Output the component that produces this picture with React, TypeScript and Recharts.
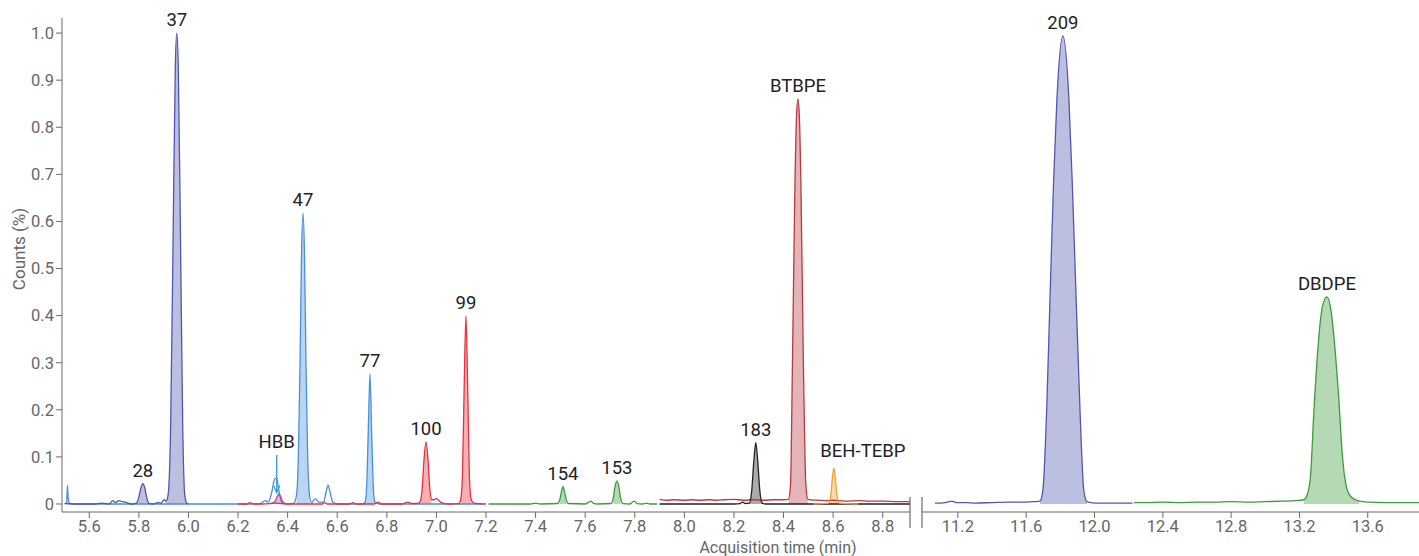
import React from "react";
import {
  ComposedChart,
  Area,
  Line,
  XAxis,
  YAxis,
  ReferenceDot,
  ReferenceLine,
} from "recharts";

type Pt = [number, number];

// retention time (min), counts (%)
const indigoLeft: Pt[] = [
  [5.5, 0.001], [5.55, 0.0], [5.62, 0.0], [5.65, 0.002], [5.68, 0.0], [5.695, 0.007],
  [5.705, 0.003], [5.72, 0.007], [5.735, 0.005], [5.75, 0.003], [5.77, 0.0], [5.79, 0.002],
  [5.8, 0.015], [5.808, 0.034], [5.816, 0.043], [5.824, 0.034], [5.832, 0.013], [5.842, 0.001],
  [5.86, 0.0], [5.875, 0.003], [5.89, 0.002], [5.902, 0.009], [5.91, 0.006], [5.918, 0.02],
  [5.928, 0.16], [5.938, 0.56], [5.947, 0.93], [5.953, 1.0], [5.959, 0.93], [5.968, 0.56],
  [5.977, 0.16], [5.985, 0.02], [5.993, 0.002], [6.0, 0.0],
];

const lightBlue: Pt[] = [
  [5.509, 0.0], [5.512, 0.04], [5.515, 0.012], [5.52, 0.002], [5.53, 0.0], [5.7, 0.0],
  [6.0, 0.0], [6.25, 0.0], [6.29, 0.001], [6.31, 0.007], [6.322, 0.004], [6.336, 0.025],
  [6.348, 0.053], [6.356, 0.055], [6.364, 0.03], [6.375, 0.005], [6.39, 0.0], [6.425, 0.002],
  [6.436, 0.02], [6.444, 0.12], [6.45, 0.3], [6.456, 0.53], [6.462, 0.618], [6.468, 0.53],
  [6.474, 0.3], [6.48, 0.12], [6.488, 0.02], [6.496, 0.003], [6.505, 0.008], [6.514, 0.011],
  [6.525, 0.004], [6.545, 0.004], [6.555, 0.025], [6.563, 0.04], [6.571, 0.025], [6.582, 0.004],
  [6.6, 0.0], [6.7, 0.0], [6.712, 0.004], [6.718, 0.03], [6.725, 0.15], [6.732, 0.276],
  [6.739, 0.15], [6.746, 0.03], [6.752, 0.004], [6.77, 0.0], [7.0, 0.0], [7.19, 0.0],
];

const magenta: Pt[] = [
  [6.33, 0.0], [6.35, 0.006], [6.358, 0.016], [6.365, 0.021], [6.372, 0.016], [6.38, 0.005], [6.395, 0.0],
];

const red: Pt[] = [
  [6.2, 0.0], [6.235, 0.0], [6.248, 0.003], [6.26, 0.0], [6.3, 0.0], [6.35, 0.002], [6.4, 0.0],
  [6.54, 0.0], [6.55, 0.003], [6.56, 0.0], [6.65, 0.0], [6.663, 0.003], [6.675, 0.0], [6.75, 0.0],
  [6.764, 0.004], [6.778, 0.0], [6.86, 0.0], [6.885, 0.004], [6.9, 0.001], [6.925, 0.001],
  [6.935, 0.006], [6.943, 0.035], [6.95, 0.095], [6.958, 0.132], [6.966, 0.095], [6.973, 0.035],
  [6.98, 0.01], [6.99, 0.009], [7.0, 0.012], [7.01, 0.007], [7.025, 0.002], [7.05, 0.0],
  [7.09, 0.001], [7.098, 0.01], [7.105, 0.06], [7.112, 0.25], [7.119, 0.4], [7.126, 0.25],
  [7.133, 0.06], [7.14, 0.01], [7.15, 0.002], [7.2, 0.0],
];

const greenLeft: Pt[] = [
  [7.21, 0.0], [7.38, 0.0], [7.4, 0.002], [7.42, 0.0], [7.49, 0.001], [7.498, 0.01],
  [7.505, 0.028], [7.51, 0.037], [7.516, 0.028], [7.523, 0.01], [7.532, 0.001], [7.6, 0.0],
  [7.615, 0.004], [7.623, 0.006], [7.632, 0.002], [7.65, 0.0], [7.705, 0.001], [7.713, 0.012],
  [7.72, 0.036], [7.728, 0.049], [7.736, 0.036], [7.743, 0.012], [7.752, 0.001], [7.78, 0.0],
  [7.797, 0.006], [7.81, 0.001], [7.83, 0.0], [7.849, 0.002], [7.86, 0.0], [7.89, 0.0],
];

const darkRed: Pt[] = [
  [7.9, 0.01], [7.93, 0.008], [7.96, 0.009], [8.0, 0.008], [8.03, 0.009], [8.06, 0.008],
  [8.1, 0.009], [8.13, 0.008], [8.16, 0.009], [8.2, 0.01], [8.24, 0.008], [8.28, 0.009],
  [8.32, 0.008], [8.36, 0.009], [8.4, 0.009], [8.42, 0.01], [8.428, 0.04], [8.436, 0.3],
  [8.446, 0.68], [8.452, 0.82], [8.458, 0.86], [8.464, 0.82], [8.47, 0.68], [8.48, 0.3],
  [8.49, 0.04], [8.498, 0.01], [8.53, 0.008], [8.57, 0.007], [8.6, 0.008], [8.65, 0.006],
  [8.7, 0.007], [8.75, 0.006], [8.8, 0.006], [8.86, 0.005], [8.91, 0.005],
];

const black: Pt[] = [
  [7.9, 0.0], [8.0, 0.0], [8.1, 0.0], [8.2, 0.0], [8.225, 0.001], [8.235, 0.004], [8.245, 0.001],
  [8.262, 0.002], [8.272, 0.03], [8.28, 0.09], [8.288, 0.13], [8.296, 0.09], [8.304, 0.03],
  [8.314, 0.002], [8.33, 0.0], [8.45, 0.0], [8.6, 0.0], [8.75, 0.0], [8.91, 0.0],
];

const orange: Pt[] = [
  [8.52, 0.0], [8.582, 0.002], [8.592, 0.025], [8.598, 0.06], [8.603, 0.076], [8.608, 0.06],
  [8.614, 0.025], [8.624, 0.002], [8.7, 0.0],
];

const indigoRight: Pt[] = [
  [11.066, 0.002], [11.1, 0.002], [11.14, 0.004], [11.166, 0.006], [11.19, 0.003], [11.25, 0.003],
  [11.3, 0.002], [11.4, 0.003], [11.5, 0.004], [11.6, 0.004], [11.65, 0.005], [11.68, 0.006],
  [11.698, 0.03], [11.72, 0.2], [11.739, 0.43], [11.76, 0.68], [11.78, 0.86], [11.815, 0.994],
  [11.85, 0.86], [11.87, 0.68], [11.893, 0.43], [11.915, 0.2], [11.937, 0.03], [11.955, 0.005],
  [12.0, 0.002], [12.1, 0.002], [12.223, 0.002],
];

const greenRight: Pt[] = [
  [12.23, 0.003], [12.3, 0.003], [12.4, 0.004], [12.5, 0.003], [12.6, 0.004], [12.7, 0.004],
  [12.8, 0.005], [12.9, 0.004], [13.0, 0.005], [13.1, 0.006], [13.18, 0.007], [13.226, 0.009],
  [13.25, 0.025], [13.265, 0.06], [13.285, 0.2], [13.308, 0.33], [13.335, 0.42], [13.361, 0.44],
  [13.385, 0.41], [13.408, 0.33], [13.431, 0.22], [13.45, 0.11], [13.47, 0.045], [13.5, 0.016],
  [13.55, 0.006], [13.6, 0.004], [13.7, 0.003], [13.8, 0.003], [13.9, 0.003],
];

const yTicks = [0, 0.1, 0.2, 0.3, 0.4, 0.5, 0.6, 0.7, 0.8, 0.9, 1.0];
const leftTicks = [5.6, 5.8, 6.0, 6.2, 6.4, 6.6, 6.8, 7.0, 7.2, 7.4, 7.6, 7.8, 8.0, 8.2, 8.4, 8.6, 8.8];
const rightTicks = [11.2, 11.6, 12.0, 12.4, 12.8, 13.2, 13.6];

const leftLabels = [
  { text: "28", t: 5.816, v: 0.043 },
  { text: "37", t: 5.953, v: 1.0 },
  { text: "HBB", t: 6.356, v: 0.104 },
  { text: "47", t: 6.462, v: 0.618 },
  { text: "77", t: 6.732, v: 0.276 },
  { text: "100", t: 6.958, v: 0.132 },
  { text: "99", t: 7.119, v: 0.4 },
  { text: "154", t: 7.51, v: 0.037 },
  { text: "153", t: 7.728, v: 0.049 },
  { text: "183", t: 8.288, v: 0.13 },
  { text: "BTBPE", t: 8.458, v: 0.86 },
  { text: "BEH-TEBP", t: 8.72, v: 0.085 },
];
const rightLabels = [
  { text: "209", t: 11.815, v: 0.994 },
  { text: "DBDPE", t: 13.361, v: 0.44 },
];

// [tStart, tEnd] of integrated (filled) peaks
const leftSeries = [
  { data: lightBlue, color: "#4a90d9", peaks: [[6.43, 6.495], [6.708, 6.756]] },
  { data: indigoLeft, color: "#5257ad", peaks: [[5.79, 5.845], [5.91, 6.0]] },
  { data: red, color: "#e8323a", peaks: [[6.93, 6.985], [7.092, 7.148]] },
  { data: magenta, color: "#c0408f", peaks: [[6.33, 6.395]] },
  { data: greenLeft, color: "#3b9c3b", peaks: [[7.492, 7.53], [7.708, 7.75]] },
  { data: darkRed, color: "#b83a42", peaks: [[8.418, 8.5]] },
  { data: black, color: "#222222", peaks: [[8.258, 8.318]] },
  { data: orange, color: "#f5a021", peaks: [[8.575, 8.63]] },
];
const rightSeries = [
  { data: indigoRight, color: "#5257ad", peaks: [[11.675, 11.96]] },
  { data: greenRight, color: "#3b9c3b", peaks: [[13.22, 13.56]] },
];

const toRows = (pts: Pt[]) => pts.map(([t, v]) => ({ t, v }));

const axisColor = "#6b6b6b";
const tickStyle = { fill: "#666", fontSize: 16.5, fontFamily: "Roboto" };
const labelStyle = { fill: "#222", fontSize: 18.5, fontFamily: "Roboto" };
const yDomain = [-0.017, 1.032];

const HbbArrow = (p: any) => {
  const { x1, y1, x2, y2 } = p;
  return (
    <g>
      <line x1={x1} y1={y1} x2={x2} y2={y2} stroke="#2a9de0" strokeWidth={1.3} />
      <path d={`M${x2 - 3},${y2 - 7}L${x2},${y2}L${x2 + 3},${y2 - 7}`} fill="none" stroke="#2a9de0" strokeWidth={1.3} />
    </g>
  );
};

const renderSeries = (series: typeof leftSeries) =>
  series.map((s, i) => {
    const rows = toRows(s.data);
    return (
      <React.Fragment key={i}>
        {s.peaks.map(([a, b], j) => (
          <Area
            key={`a${i}-${j}`}
            data={rows.filter((r) => r.t >= a && r.t <= b)}
            dataKey="v"
            type="monotone"
            stroke="none"
            fill={s.color}
            fillOpacity={0.38}
            isAnimationActive={false}
          />
        ))}
        <Line
          data={rows}
          dataKey="v"
          type="monotone"
          stroke={s.color}
          strokeWidth={1.3}
          dot={false}
          activeDot={false}
          isAnimationActive={false}
        />
      </React.Fragment>
    );
  });

const renderLabels = (labels: typeof leftLabels) =>
  labels.map((l) => (
    <ReferenceDot
      key={l.text}
      x={l.t}
      y={l.v}
      r={0}
      fill="none"
      stroke="none"
      ifOverflow="visible"
      label={{ value: l.text, position: "top", offset: 7, ...labelStyle }}
    />
  ));

export default function App() {
  return (
    <div style={{ position: "absolute", left: 0, top: 0, width: 1419, height: 556, background: "#fff", fontFamily: "Roboto" }}>
      <div style={{ position: "absolute", left: 0, top: 0 }}>
        <ComposedChart width={910} height={556} margin={{ top: 18, right: 0, bottom: 0, left: 0 }}>
          <XAxis
            dataKey="t"
            type="number"
            domain={[5.49, 8.91]}
            ticks={leftTicks}
            tickFormatter={(v: number) => v.toFixed(1)}
            allowDataOverflow
            height={44}
            stroke={axisColor}
            tick={tickStyle}
          />
          <YAxis
            type="number"
            domain={yDomain}
            ticks={yTicks}
            allowDataOverflow
            width={62}
            stroke={axisColor}
            tick={tickStyle}
            tickFormatter={(v: number) => (v === 0 ? "0" : v.toFixed(1))}
          />
          {renderSeries(leftSeries)}
          <ReferenceLine
            segment={[{ x: 6.356, y: 0.104 }, { x: 6.356, y: 0.024 }]}
            ifOverflow="visible"
            shape={HbbArrow}
          />
          {renderLabels(leftLabels)}
        </ComposedChart>
      </div>
      <div style={{ position: "absolute", left: 922, top: 0 }}>
        <ComposedChart width={497} height={556} margin={{ top: 18, right: 0, bottom: 0, left: 0 }}>
          <XAxis
            dataKey="t"
            type="number"
            domain={[10.99, 13.9]}
            ticks={rightTicks}
            tickFormatter={(v: number) => v.toFixed(1)}
            allowDataOverflow
            height={44}
            stroke={axisColor}
            tick={tickStyle}
          />
          <YAxis type="number" domain={yDomain} allowDataOverflow hide />
          {renderSeries(rightSeries)}
          {renderLabels(rightLabels)}
        </ComposedChart>
      </div>
      <svg width={1419} height={556} style={{ position: "absolute", left: 0, top: 0, pointerEvents: "none" }}>
        <line x1={910} y1={497} x2={910} y2={528} stroke={axisColor} strokeWidth={1.2} />
        <line x1={922} y1={497} x2={922} y2={528} stroke={axisColor} strokeWidth={1.2} />
        <text
          transform="translate(19,249) rotate(-90)"
          textAnchor="middle"
          dominantBaseline="central"
          fill="#666"
          fontSize={17}
          fontFamily="Roboto"
        >
          Counts (%)
        </text>
        <text x={778} y={547} textAnchor="middle" dominantBaseline="central" fill="#666" fontSize={16} fontFamily="Roboto">
          Acquisition time (min)
        </text>
      </svg>
    </div>
  );
}
